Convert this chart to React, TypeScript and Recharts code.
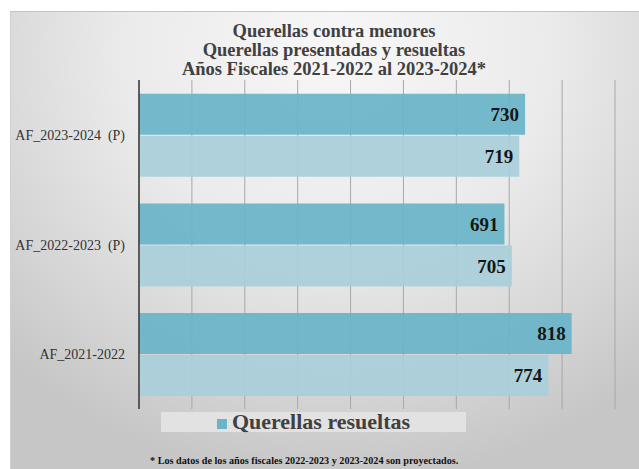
import React from 'react';
import { BarChart, Bar, XAxis, YAxis, CartesianGrid, Legend, LabelList } from 'recharts';

const categories = ['AF_2023-2024  (P)', 'AF_2022-2023  (P)', 'AF_2021-2022'];
const resueltas = [730, 691, 818];
const presentadas = [719, 705, 774];
const xTicks = [0, 100, 200, 300, 400, 500, 600, 700, 800, 900];

const titleLines = [
  'Querellas contra menores',
  'Querellas presentadas y resueltas',
  'Años Fiscales 2021-2022 al 2023-2024*',
];
const footnote = '* Los datos de los años fiscales 2022-2023 y 2023-2024 son proyectados.';

const data = categories.map((name, i) => ({
  name,
  resueltas: resueltas[i],
  presentadas: presentadas[i],
}));

const FONT = '"Liberation Serif", "DejaVu Serif", serif';

const renderLegend = (props: any) => {
  const items = (props.payload || []).filter((p: any) => p.type !== 'none');
  return (
    <div
      style={{
        background: '#e2e2e2',
        height: 20,
        display: 'flex',
        alignItems: 'center',
        justifyContent: 'center',
        fontFamily: FONT,
      }}
    >
      {items.map((p: any) => (
        <div key={p.value} style={{ display: 'flex', alignItems: 'center' }}>
          <span style={{ width: 10, height: 10, background: p.color, marginRight: 5, marginTop: 3 }} />
          <span style={{ fontSize: 22, lineHeight: '20px', fontWeight: 'bold', color: '#404040' }}>{p.value}</span>
        </div>
      ))}
    </div>
  );
};

const YTick = (props: any) => {
  const { x, y, payload } = props;
  return (
    <text
      x={x}
      y={y}
      dy={5}
      textAnchor="end"
      fill="#333"
      fontSize={14}
      fontFamily={FONT}
      style={{ whiteSpace: 'pre' }}
    >
      {payload.value}
    </text>
  );
};

// grid x positions taken from the x axis scale
const gridX = ({ xAxis, offset }: any) => {
  const s = xAxis && xAxis.scale;
  return xTicks.map(t => {
    if (typeof s === 'function') return s(t);
    if (s && typeof s.map === 'function') return s.map(t);
    return offset.left + (offset.width * t) / 900;
  });
};

export default function App() {
  return (
    <div style={{ position: 'absolute', left: 0, top: 0, width: 639, height: 469, background: '#fff' }}>
      <div
        style={{
          position: 'absolute',
          left: 10,
          top: 11,
          width: 629,
          height: 458,
          borderTop: '1px solid #c4c4c4',
          borderLeft: '1px solid #d0d0d0',
          boxSizing: 'border-box',
          background: 'radial-gradient(ellipse 75% 95% at 52% 8%, #f7f7f7 0%, #ebebeb 45%, #d4d4d4 80%, #c6c6c6 100%)',
        }}
      />
      <div
        style={{
          position: 'absolute',
          left: 134,
          top: 22,
          width: 400,
          textAlign: 'center',
          fontFamily: FONT,
          fontWeight: 'bold',
          fontSize: 18.5,
          lineHeight: '19px',
          color: '#404040',
        }}
      >
        {titleLines.map(t => (
          <div key={t}>{t}</div>
        ))}
      </div>
      <div style={{ position: 'absolute', left: 0, top: 0 }}>
        <BarChart
          width={639}
          height={469}
          data={data}
          layout="vertical"
          margin={{ top: 80, right: 24, bottom: 60, left: 0 }}
          barCategoryGap="12.5%"
          barGap={1}
        >
          <CartesianGrid
            vertical
            horizontal={false}
            stroke="#a8a8a8"
            strokeWidth={1}
            verticalCoordinatesGenerator={gridX}
          />
          <XAxis
            type="number"
            domain={[0, 900]}
            ticks={xTicks}
            interval={0}
            tick={false}
            axisLine={false}
            tickLine={false}
            height={0}
          />
          <YAxis
            type="category"
            dataKey="name"
            width={139}
            tickLine={false}
            tickSize={0}
            tickMargin={14}
            axisLine={{ stroke: '#3a3a3a', strokeWidth: 1.5 }}
            tick={<YTick />}
          />
          <Legend
            layout="horizontal"
            verticalAlign="middle"
            align="center"
            content={renderLegend}
            wrapperStyle={{ left: 161, top: 412, bottom: 'auto', width: 305 }}
          />
          <Bar dataKey="resueltas" name="Querellas resueltas" fill="#6bb5c8" fillOpacity={0.93} isAnimationActive={false}>
            <LabelList
              dataKey="resueltas"
              position="insideRight"
              offset={6}
              style={{ fill: '#151515', fontSize: 19, fontWeight: 'bold', fontFamily: FONT }}
            />
          </Bar>
          <Bar
            dataKey="presentadas"
            name="Querellas presentadas"
            fill="#a9cfda"
            fillOpacity={0.93}
            legendType="none"
            isAnimationActive={false}
          >
            <LabelList
              dataKey="presentadas"
              position="insideRight"
              offset={6}
              style={{ fill: '#151515', fontSize: 19, fontWeight: 'bold', fontFamily: FONT }}
            />
          </Bar>
        </BarChart>
      </div>
      <div
        style={{
          position: 'absolute',
          left: 150,
          top: 455,
          fontFamily: FONT,
          fontWeight: 'bold',
          fontSize: 10.2,
          color: '#111',
          whiteSpace: 'nowrap',
        }}
      >
        {footnote}
      </div>
    </div>
  );
}
